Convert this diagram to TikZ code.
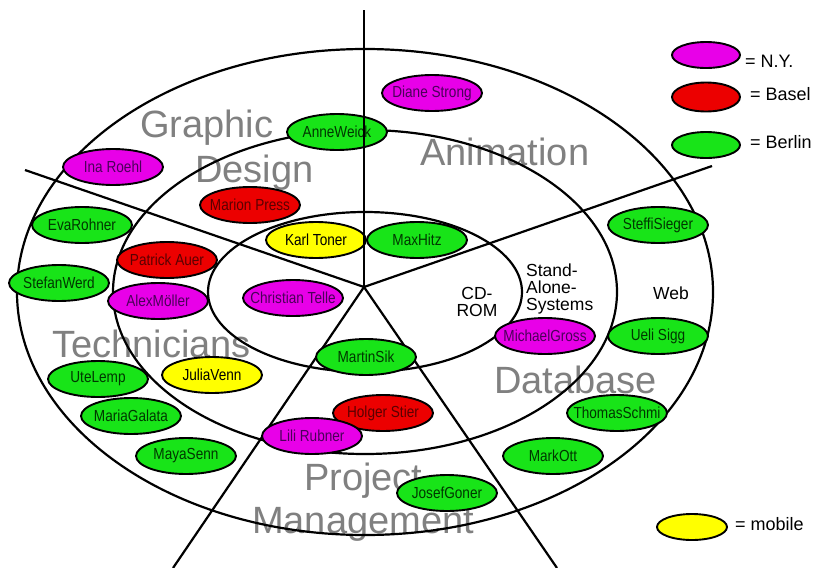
\documentclass[tikz,border=0pt]{standalone}
\usepackage{fontspec}
\setmainfont{Liberation Sans}
\newfontfamily\namefont[FakeStretch=0.85]{Liberation Sans}
\usetikzlibrary{shapes.geometric}
\definecolor{pmag}{RGB}{232,0,232}
\definecolor{pred}{RGB}{236,0,0}
\definecolor{pgreen}{RGB}{24,228,24}
\definecolor{pyellow}{RGB}{255,255,0}
\definecolor{tmag}{RGB}{75,0,90}
\definecolor{tred}{RGB}{90,0,0}
\definecolor{tgreen}{RGB}{0,55,0}
\definecolor{areagray}{RGB}{128,128,128}
\begin{document}
\begin{tikzpicture}[x=1pt,y=-1pt,
  person/.style={ellipse, draw=black, line width=1.9pt, minimum width=100pt, minimum height=36pt, inner sep=0pt, font=\namefont\fontsize{16}{16}\selectfont},
  ny/.style={person, fill=pmag, text=tmag},
  basel/.style={person, fill=pred, text=tred},
  berlin/.style={person, fill=pgreen, text=tgreen},
  mobile/.style={person, fill=pyellow, text=black},
  ring/.style={draw=black, line width=2.2pt},
  spoke/.style={draw=black, line width=2.2pt},
  axis/.style={draw=black, line width=1.3pt},
  area/.style={text=areagray, font=\fontsize{38}{38}\selectfont, anchor=base west, inner sep=0pt},
  field/.style={text=black, font=\fontsize{17.5}{17}\selectfont, inner sep=0pt},
  legendshape/.style={ellipse, draw=black, line width=1.9pt, minimum width=68pt, minimum height=26pt, inner sep=0pt},
  legendtext/.style={anchor=base west, inner sep=0pt, font=\fontsize{18}{18}\selectfont}
]
\useasboundingbox (0,0) rectangle (820,568);
\fill[white] (0,0) rectangle (820,568);

% area titles (under the lines)
\node[area] (graphic) at (140,137) {Graphic};
\node[area] (design) at (195,182) {Design};
\node[area] (animation) at (420,165) {Animation};
\node[area] (technicians) at (52,357) {Technicians};
\node[area] (database) at (494,393) {Database};
\node[area] (project) at (304,490) {Project};
\node[area] (management) at (252,533) {Management};

% rings
\draw[ring] (365,292) ellipse [x radius=348pt, y radius=243pt];
\draw[ring] (365,292) ellipse [x radius=252pt, y radius=162pt];
\draw[ring] (365,292) ellipse [x radius=157pt, y radius=80pt];

% spokes
\coordinate (hub) at (364,287);
\coordinate (top) at (364,10);
\coordinate (leftend) at (25,170);
\coordinate (rightend) at (712,166);
\coordinate (bottomleft) at (173,568);
\coordinate (bottomright) at (557,568);
\draw[spoke] (hub) -- (leftend);
\draw[spoke] (hub) -- (rightend);
\draw[spoke] (hub) -- (bottomleft);
\draw[spoke] (hub) -- (bottomright);

% field labels
\node[field, align=center] (cdrom) at (477,302) {CD-\\ROM};
\node[field, align=left, anchor=west] (standalone) at (526,288.5) {Stand-\\Alone-\\Systems};
\node[field, anchor=base] (web) at (671,299) {Web};

% people
\node[ny] (ina) at (113,167) {\makebox[0pt]{Ina Roehl}};
\node[berlin] (anne) at (337,132) {\makebox[0pt]{AnneWeick}};
\node[ny] (diane) at (432,93) {\makebox[0pt]{Diane Strong}};
\node[basel] (marion) at (250,205) {\makebox[0pt]{Marion Press}};
\node[berlin] (eva) at (82,225) {\makebox[0pt]{EvaRohner}};
\node[berlin] (stefan) at (59,283) {\makebox[0pt]{StefanWerd}};
\node[basel] (patrick) at (167,260) {\makebox[0pt]{Patrick Auer}};
\node[ny] (alex) at (158,301) {\makebox[0pt]{AlexMöller}};
\node[ny] (christian) at (293,298) {\makebox[0pt]{Christian Telle}};
\node[mobile] (karl) at (316,240) {\makebox[0pt]{Karl Toner}};
\node[berlin] (max) at (417,240) {\makebox[0pt]{MaxHitz}};
\node[berlin] (steffi) at (658,225) {\makebox[0pt]{SteffiSieger}};
\node[ny] (michael) at (545,336) {\makebox[0pt]{MichaelGross}};
\node[berlin] (ueli) at (658,336) {\makebox[0pt]{Ueli Sigg}};
\node[berlin] (martin) at (366,357) {\makebox[0pt]{MartinSik}};
\node[berlin] (ute) at (98,379) {\makebox[0pt]{UteLemp}};
\node[mobile] (julia) at (212,375) {\makebox[0pt]{JuliaVenn}};
\node[berlin] (maria) at (131,416) {\makebox[0pt]{MariaGalata}};
\node[berlin] (maya) at (186,456) {\makebox[0pt]{MayaSenn}};
\node[basel] (holger) at (383,413) {\makebox[0pt]{Holger Stier}};
\node[ny] (lili) at (312,436) {\makebox[0pt]{Lili Rubner}};
\node[berlin] (josef) at (447,493) {\makebox[0pt]{JosefGoner}};
\node[berlin] (mark) at (553,456) {\makebox[0pt]{MarkOtt}};
\node[berlin] (thomas) at (617,413) {\makebox[0pt]{ThomasSchmi}};

% vertical axis on top
\draw[axis] (hub) -- (top);

% legend
\node[legendshape, fill=pmag] (lny) at (706,55) {};
\node[legendtext] (tny) at (745,67) {= N.Y.};
\node[legendshape, fill=pred, minimum height=29pt] (lbasel) at (706,97) {};
\node[legendtext] (tbasel) at (750,100) {= Basel};
\node[legendshape, fill=pgreen] (lberlin) at (706,145) {};
\node[legendtext] (tberlin) at (750,148) {= Berlin};
\node[legendshape, fill=pyellow, minimum width=70pt] (lmobile) at (692,527) {};
\node[legendtext] (tmobile) at (735,530) {= mobile};
\end{tikzpicture}
\end{document}
